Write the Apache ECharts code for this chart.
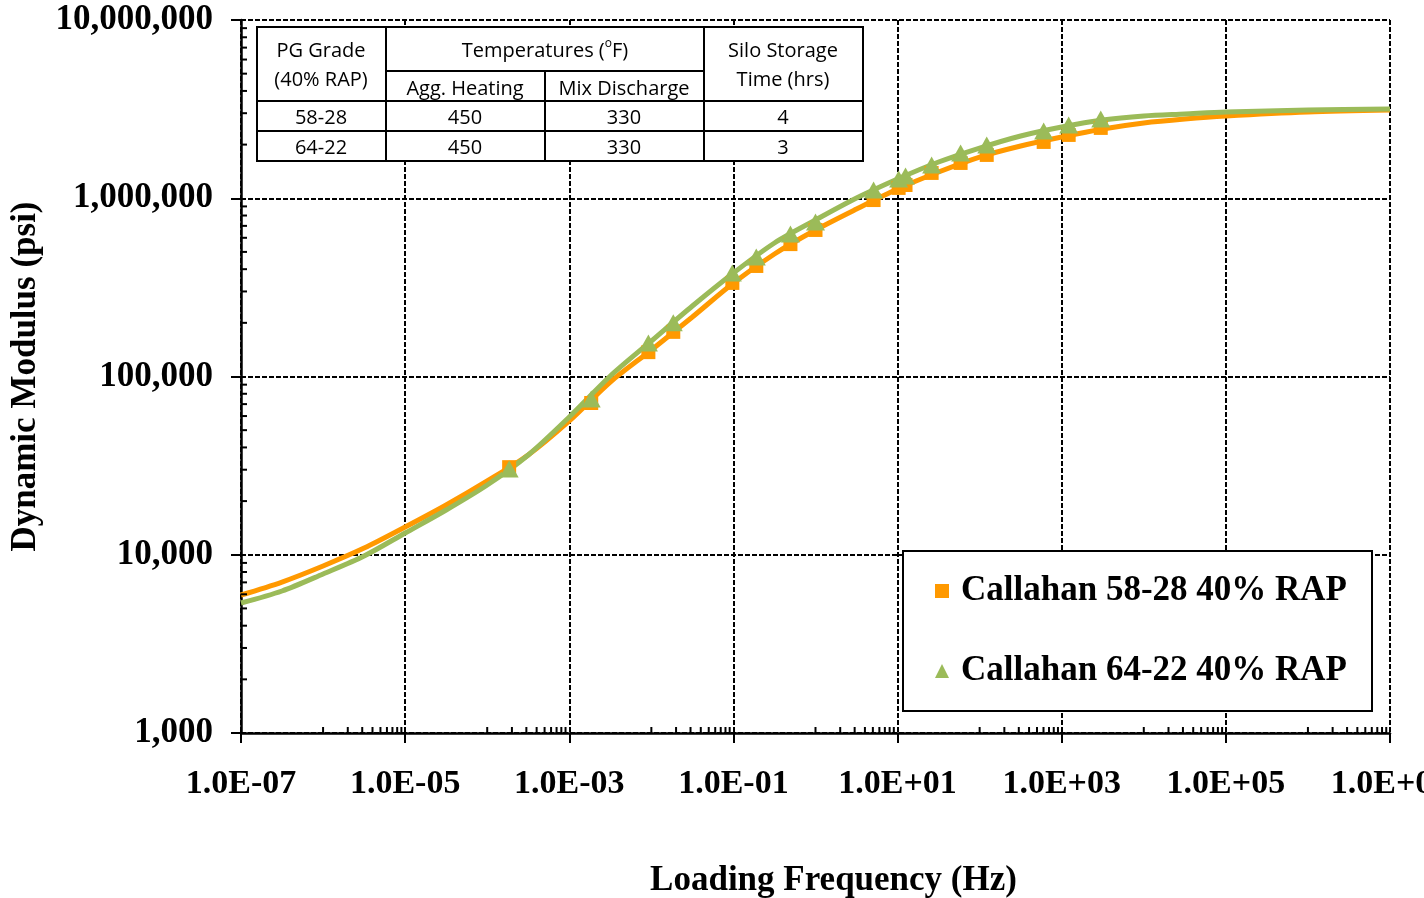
<!DOCTYPE html>
<html>
<head>
<meta charset="utf-8">
<script src="https://cdn.jsdelivr.net/npm/echarts@6/dist/echarts.min.js"></script>
<style>
  html, body { margin: 0; padding: 0; background: #fff; }
  #main { width: 1424px; height: 898px; }
</style>
</head>
<body>
<div id="main"></div>
<script>
// fitted master curves
var fitFreq = [1e-7, 3.16e-7, 1e-6, 3.16e-6, 1e-5, 3.16e-5, 1e-4, 3.16e-4, 1e-3, 3.16e-3, 1e-2, 3.16e-2,
    0.1, 0.316, 1, 3.16, 10, 31.6, 100, 316, 1000, 3160, 1e4, 3.16e4, 1e5, 1e6, 1e7];
var fit5828 = [5945, 7030, 8650, 10900, 14310, 19020, 25930, 36270, 56290, 93140, 140800, 215700,
    334600, 486800, 663500, 870600, 1127000, 1404000, 1703000, 1964000, 2206000, 2446000, 2644000, 2783000, 2893000, 3047000, 3126000];
var fit6422 = [5360, 6260, 7800, 9840, 13240, 17820, 24620, 36270, 59270, 100650, 158200, 248600,
    380700, 561000, 755100, 1003000, 1282000, 1597000, 1913000, 2235000, 2510000, 2748000, 2893000, 2969000, 3047000, 3126000, 3167000];

// measured points
var ptFreq = [1.85e-4, 1.85e-3, 9.2e-3, 1.85e-2, 0.097, 0.19, 0.495, 1.0, 5.1, 10.3, 12.5, 26, 58.6, 122, 603, 1216, 2990];
var pt5828 = [31000, 71000, 137000, 178000, 335000, 417000, 553000, 664000, 977000, 1143000, 1187000, 1387000, 1578000, 1750000, 2070000, 2266000, 2481000];
var pt6422 = [30300, 74800, 154000, 200000, 381000, 468000, 630000, 736000, 1112000, 1283000, 1333000, 1537000, 1795000, 1991000, 2384000, 2576000, 2787000];

var seriesNames = ['Callahan 58-28 40% RAP', 'Callahan 64-22 40% RAP'];

// table in the top-left corner
var tableHead = ['PG Grade', '(40% RAP)', '{n|Temperatures (}{sup|o}{n|F)}', 'Agg. Heating', 'Mix Discharge', 'Silo Storage', 'Time (hrs)'];
var tableRows = [
    ['58-28', '450', '330', '4'],
    ['64-22', '450', '330', '3']
];

// minor tick marks (Excel style, 2..9 per decade)
var minorMult = [1, 2, 3, 4, 5, 6, 7, 8, 9];
var xMinorDecades = [1e-6, 1e-4, 1e-2, 1, 1e2, 1e4, 1e6];
var yMinorDecades = [1e3, 1e4, 1e5, 1e6];

var orange = '#FF9900';
var green = '#9BBB59';
var serif = '"Liberation Serif", "Times New Roman", serif';
var sans = '"Open Sans", "Noto Sans", sans-serif';

function pairs(xs, ys) {
    var out = [];
    for (var i = 0; i < xs.length; i++) out.push([xs[i], ys[i]]);
    return out;
}

var xMinor = [];
xMinorDecades.forEach(function (d) {
    minorMult.forEach(function (m) { xMinor.push([d * m, 1000]); });
});
var yMinor = [];
yMinorDecades.forEach(function (d) {
    minorMult.slice(1).forEach(function (m) { yMinor.push([1e-7, d * m]); });
});

function expLabel(v) {
    var e = Math.round(Math.log10(v));
    var a = Math.abs(e);
    return '1.0E' + (e < 0 ? '-' : '+') + (a < 10 ? '0' + a : a);
}

// table graphic
function buildTable() {
    var L = 257, T = 27, R = 863, B = 161;
    var cols = [257, 386, 545, 704, 863];
    var lineStyle = { stroke: '#000', lineWidth: 2 };
    var els = [];
    function ln(x1, y1, x2, y2) {
        return { type: 'line', z: 21, shape: { x1: x1, y1: y1, x2: x2, y2: y2 }, style: lineStyle };
    }
    els.push({ type: 'rect', z: 20, shape: { x: L, y: T, width: R - L, height: B - T }, style: { fill: '#fff', stroke: '#000', lineWidth: 2 } });
    els.push(ln(cols[1], T, cols[1], B));
    els.push(ln(cols[2], 71, cols[2], B));
    els.push(ln(cols[3], T, cols[3], B));
    els.push(ln(cols[1], 71, cols[3], 71));
    els.push(ln(L, 101, R, 101));
    els.push(ln(L, 131, R, 131));

    function txt(s, x, y) {
        return {
            type: 'text', x: x, y: y, z: 22,
            style: {
                text: s, font: '20px ' + sans, fill: '#000', align: 'center', verticalAlign: 'middle',
                rich: {
                    n: { fontSize: 20, fontFamily: sans, lineHeight: 26, verticalAlign: 'middle' },
                    sup: { fontSize: 12, fontFamily: sans, lineHeight: 12, verticalAlign: 'top' }
                }
            }
        };
    }
    els.push(txt(tableHead[0], 321, 51));
    els.push(txt(tableHead[1], 321, 80));
    els.push(txt(tableHead[2], 545, 51));
    els.push(txt(tableHead[3], 465, 89));
    els.push(txt(tableHead[4], 624, 89));
    els.push(txt(tableHead[5], 783, 51));
    els.push(txt(tableHead[6], 783, 80));
    var centers = [321, 465, 624, 783];
    tableRows.forEach(function (row, r) {
        row.forEach(function (cell, c) {
            els.push(txt(cell, centers[c], 118 + r * 30));
        });
    });
    return els;
}

var myChart = echarts.init(document.getElementById('main'));

var option = {
    backgroundColor: '#fff',
    animation: false,
    grid: { left: 241, right: 34, top: 20, bottom: 165, containLabel: false, outerBoundsMode: 'none' },
    xAxis: {
        type: 'log',
        logBase: 10,
        min: 1e-7,
        max: 1e7,
        interval: 2,
        name: 'Loading Frequency (Hz)',
        nameLocation: 'middle',
        nameGap: 130,
        nameTextStyle: { fontFamily: serif, fontWeight: 'bold', fontSize: 35, color: '#000', padding: [0, 0, 0, 36] },
        axisLine: { show: true, lineStyle: { color: '#000', width: 2.5 } },
        axisTick: { show: true, inside: false, length: 10, lineStyle: { color: '#000', width: 2 } },
        axisLabel: {
            formatter: expLabel, margin: 34,
            fontFamily: serif, fontWeight: 'bold', fontSize: 34, color: '#000'
        },
        splitLine: { show: true, lineStyle: { color: '#000', width: 2, type: [5, 2] } },
        minorTick: { show: false }
    },
    yAxis: {
        type: 'log',
        logBase: 10,
        min: 1000,
        max: 1e7,
        interval: 1,
        name: 'Dynamic Modulus (psi)',
        nameLocation: 'middle',
        nameGap: 198,
        nameTextStyle: { fontFamily: serif, fontWeight: 'bold', fontSize: 35, color: '#000' },
        axisLine: { show: true, lineStyle: { color: '#000', width: 2.5 } },
        axisTick: { show: true, inside: false, length: 10, lineStyle: { color: '#000', width: 2 } },
        axisLabel: {
            formatter: function (v) { return Math.round(v).toLocaleString('en-US'); },
            margin: 28,
            fontFamily: serif, fontWeight: 'bold', fontSize: 35, color: '#000'
        },
        splitLine: { show: true, lineStyle: { color: '#000', width: 2, type: [5, 2] } }
    },
    legend: {
        data: seriesNames,
        orient: 'vertical',
        left: 935,
        top: 571,
        padding: 0,
        itemGap: 40,
        itemWidth: 14,
        itemHeight: 14,
        z: 30,
        textStyle: { fontFamily: serif, fontWeight: 'bold', fontSize: 35, color: '#000', lineHeight: 40, padding: [0, 0, 0, 7] }
    },
    graphic: buildTable().concat([
        {
            type: 'rect', z: 20,
            shape: { x: 903, y: 551, width: 469, height: 160 },
            style: { fill: '#fff', stroke: '#000', lineWidth: 2 }
        }
    ]),
    series: [
        {
            name: 'fit 58-28',
            type: 'line',
            data: pairs(fitFreq, fit5828),
            smooth: 0.3,
            showSymbol: false,
            lineStyle: { color: orange, width: 5 },
            z: 2
        },
        {
            name: 'fit 64-22',
            type: 'line',
            data: pairs(fitFreq, fit6422),
            smooth: 0.3,
            showSymbol: false,
            lineStyle: { color: green, width: 5 },
            z: 3
        },
        {
            name: seriesNames[0],
            type: 'scatter',
            data: pairs(ptFreq, pt5828),
            symbol: 'rect',
            symbolSize: 14,
            itemStyle: { color: orange, opacity: 1 },
            z: 4
        },
        {
            name: seriesNames[1],
            type: 'scatter',
            data: pairs(ptFreq, pt6422),
            symbol: 'triangle',
            symbolSize: [19, 17],
            itemStyle: { color: green, opacity: 1 },
            z: 5
        },
        {
            name: 'xminor',
            type: 'custom',
            silent: true,
            z: 6,
            data: xMinor,
            renderItem: function (params, api) {
                var p = api.coord([api.value(0), api.value(1)]);
                return { type: 'line', shape: { x1: p[0], y1: p[1], x2: p[0], y2: p[1] - 6 }, style: { stroke: '#000', lineWidth: 2 } };
            }
        },
        {
            name: 'yminor',
            type: 'custom',
            silent: true,
            z: 6,
            data: yMinor,
            renderItem: function (params, api) {
                var p = api.coord([api.value(0), api.value(1)]);
                return { type: 'line', shape: { x1: p[0], y1: p[1], x2: p[0] + 6, y2: p[1] }, style: { stroke: '#000', lineWidth: 2 } };
            }
        }
    ]
};

myChart.setOption(option);
</script>
</body>
</html>
